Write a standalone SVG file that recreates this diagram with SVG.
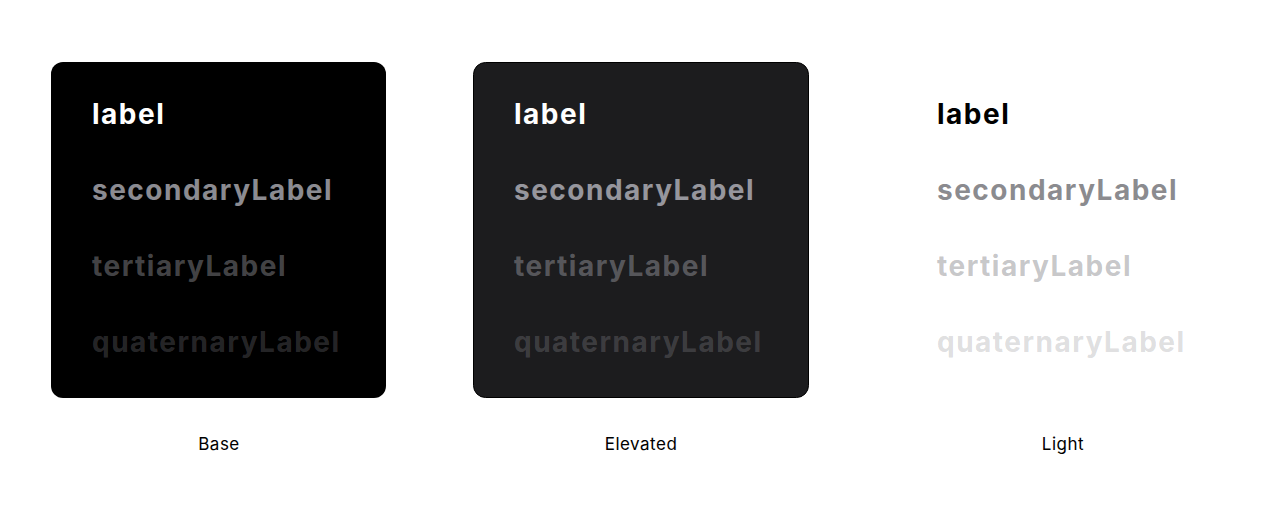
<svg xmlns="http://www.w3.org/2000/svg" width="1280" height="516" viewBox="0 0 1280 516">
<style>
.t{font-family:Inter,"Noto Sans",sans-serif;font-weight:700;font-size:28px;letter-spacing:1.5px}
.cap{font-family:Inter,"Noto Sans",sans-serif;font-size:17px;fill:#000;text-anchor:middle;letter-spacing:0.5px}
.d1{fill:#fff}.d2{fill:rgba(235,235,245,0.6)}.d3{fill:rgba(235,235,245,0.3)}.d4{fill:rgba(235,235,245,0.18)}
.l1{fill:#000}.l2{fill:rgba(60,60,67,0.6)}.l3{fill:rgba(60,60,67,0.3)}.l4{fill:rgba(60,60,67,0.18)}
</style>
<rect width="1280" height="516" fill="#fff"/>
<g id="base">
<rect x="51" y="62" width="335" height="336" rx="12" fill="#000"/>
<text class="t d1" x="92" y="124">label</text>
<text class="t d2" x="92" y="200">secondaryLabel</text>
<text class="t d3" x="92" y="276">tertiaryLabel</text>
<text class="t d4" x="92" y="352">quaternaryLabel</text>
<text class="cap" x="219" y="450">Base</text>
</g>
<g id="elevated">
<rect x="473.5" y="62.5" width="335" height="335" rx="12" fill="#1c1c1e" stroke="#000" stroke-width="1"/>
<text class="t d1" x="514" y="124">label</text>
<text class="t d2" x="514" y="200">secondaryLabel</text>
<text class="t d3" x="514" y="276">tertiaryLabel</text>
<text class="t d4" x="514" y="352">quaternaryLabel</text>
<text class="cap" x="641" y="450">Elevated</text>
</g>
<g id="light">
<text class="t l1" x="937" y="124">label</text>
<text class="t l2" x="937" y="200">secondaryLabel</text>
<text class="t l3" x="937" y="276">tertiaryLabel</text>
<text class="t l4" x="937" y="352">quaternaryLabel</text>
<text class="cap" x="1063" y="450">Light</text>
</g>
<g id="connectors"/>
</svg>
